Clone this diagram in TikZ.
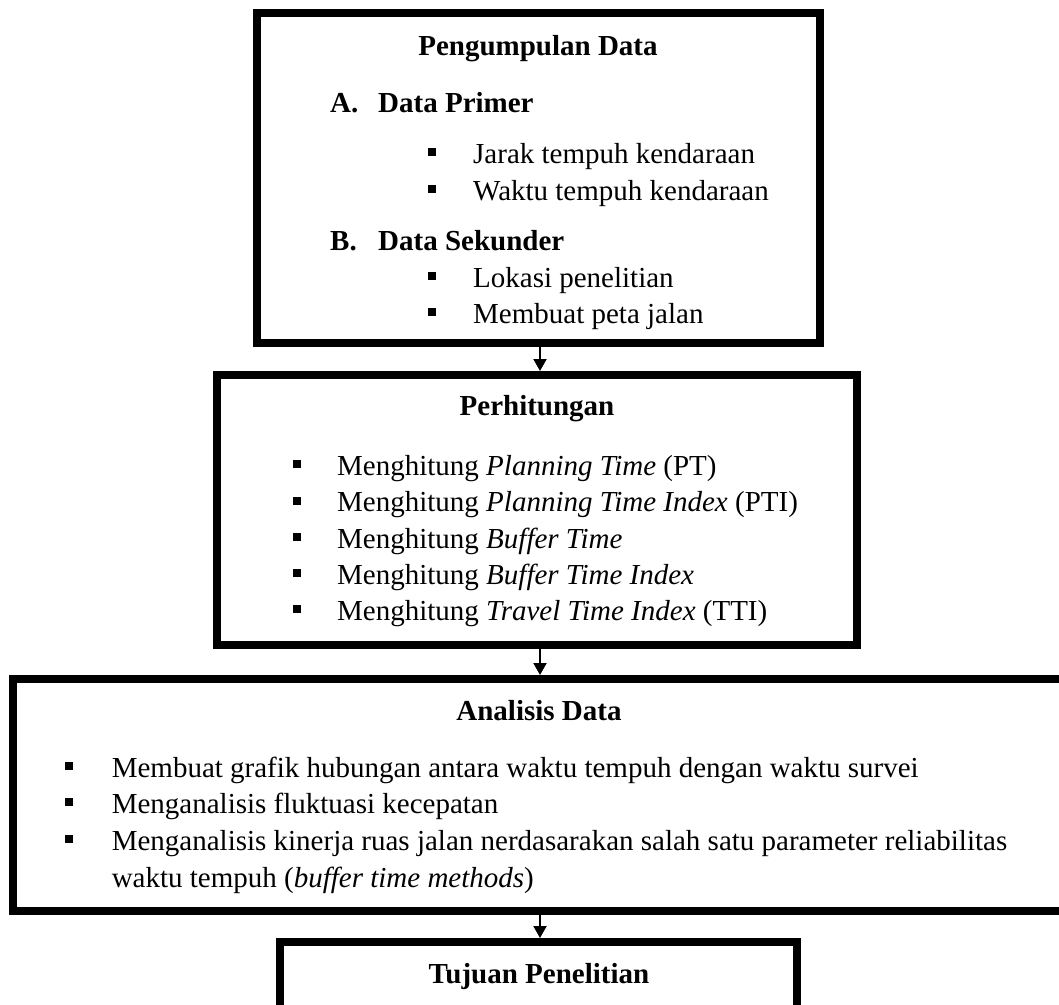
\documentclass[tikz,border=0pt]{standalone}
\usepackage{fontspec}
\setmainfont{Liberation Serif}
\usetikzlibrary{arrows.meta}
\newcommand{\bul}[1]{\makebox[#1][l]{\rule[7pt]{8pt}{8pt}}}
\begin{document}
\begin{tikzpicture}[x=1pt,y=-1pt,
  flowbox/.style={draw, line width=8pt, inner sep=0pt},
  txt/.style={anchor=base west, inner sep=0pt, font=\fontsize{29}{35}\selectfont},
  ttl/.style={anchor=base, inner sep=0pt, font=\fontsize{29}{35}\selectfont\bfseries},
  arr/.style={line width=2pt, -{Triangle[width=13pt,length=12pt]}}]
\useasboundingbox (0,0) rectangle (1059,1004);
% boxes
\node[flowbox, minimum width=563pt, minimum height=330pt] (b1) at (538.5,178) {};
\node[flowbox, minimum width=640pt, minimum height=270pt] (b2) at (537,510) {};
\node[flowbox, minimum width=1057.5pt, minimum height=231.5pt] (b3) at (541.25,794.75) {};
\node[flowbox, minimum width=517pt, minimum height=100pt] (b4) at (538.5,992) {};
% box 1
\node[ttl] (t1) at (538,55) {Pengumpulan Data};
\node[txt, font=\fontsize{29}{35}\selectfont\bfseries] (a1) at (330,112) {A.};
\node[txt, font=\fontsize{29}{35}\selectfont\bfseries] (a2) at (378,112) {Data Primer};
\node[txt] (a3) at (428,163) {\bul{45pt}Jarak tempuh kendaraan};
\node[txt] (a4) at (428,200) {\bul{45pt}Waktu tempuh kendaraan};
\node[txt, font=\fontsize{29}{35}\selectfont\bfseries] (b1a) at (330,250) {B.};
\node[txt, font=\fontsize{29}{35}\selectfont\bfseries] (b1b) at (378,250) {Data Sekunder};
\node[txt] (a5) at (428,287) {\bul{45pt}Lokasi penelitian};
\node[txt] (a6) at (428,323) {\bul{45pt}Membuat peta jalan};
% box 2
\node[ttl] (t2) at (537,415) {Perhitungan};
\node[txt] (c1) at (293,475) {\bul{44pt}Menghitung \textit{Planning Time} (PT)};
\node[txt] (c2) at (293,511.5) {\bul{44pt}Menghitung \textit{Planning Time Index} (PTI)};
\node[txt] (c3) at (293,548) {\bul{44pt}Menghitung \textit{Buffer Time}};
\node[txt] (c4) at (293,584) {\bul{44pt}Menghitung \textit{Buffer Time Index}};
\node[txt] (c5) at (293,620) {\bul{44pt}Menghitung \textit{Travel Time Index} (TTI)};
% box 3
\node[ttl] (t3) at (539,720) {Analisis Data};
\node[txt] (d1) at (65,777) {\bul{46.6pt}Membuat grafik hubungan antara waktu tempuh dengan waktu survei};
\node[txt] (d2) at (65,813) {\bul{46.6pt}Menganalisis fluktuasi kecepatan};
\node[txt] (d3) at (65,850) {\bul{46.6pt}Menganalisis kinerja ruas jalan nerdasarakan salah satu parameter reliabilitas};
\node[txt] (d4) at (111.6,887) {waktu tempuh (\textit{buffer time methods})};
% box 4
\node[ttl] (t4) at (539,983) {Tujuan Penelitian};
% arrows
\coordinate (ax) at (540,0);
\draw[arr] (b1.south -| ax) -- (b2.north -| ax);
\draw[arr] (b2.south -| ax) -- (b3.north -| ax);
\draw[arr] (b3.south -| ax) -- (b4.north -| ax);
\end{tikzpicture}
\end{document}
